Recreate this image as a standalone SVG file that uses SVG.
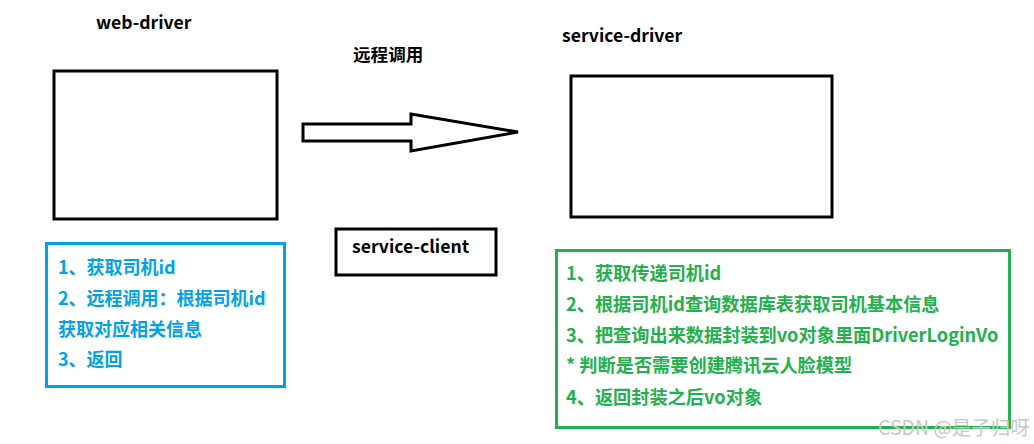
<svg xmlns="http://www.w3.org/2000/svg" width="1034" height="444" viewBox="0 0 1034 444">
<style>
.t{font-family:"Noto Sans CJK SC","Noto Sans",sans-serif;font-weight:bold;font-size:17.6px;fill:#000}
.box{fill:#fff;stroke:#000;stroke-width:3}
.blue{font-family:"Noto Sans CJK SC","Noto Sans",sans-serif;font-weight:bold;font-size:18px;fill:#00a2e8}
.green{font-family:"Noto Sans CJK SC","Noto Sans",sans-serif;font-weight:bold;font-size:18.2px;fill:#22b14c}
.wm{font-family:"Noto Sans CJK SC","Noto Sans",sans-serif;font-size:19.5px;fill:#c8c8c8}
</style>
<rect width="1034" height="444" fill="#fff"/>
<g id="web-driver">
<text class="t" x="96" y="29">web-driver</text>
<rect class="box" x="54" y="71" width="223" height="148"/>
</g>
<g id="service-driver">
<text class="t" x="562" y="42">service-driver</text>
<rect class="box" x="571" y="76" width="261" height="141"/>
</g>
<g id="service-client">
<rect class="box" x="336" y="229" width="160" height="46"/>
<text class="t" x="352" y="253">service-client</text>
</g>
<g id="web-notes">
<rect x="46.5" y="243.5" width="238" height="143" fill="none" stroke="#00a2e8" stroke-width="3"/>
<text class="blue" x="58" y="274">1、获取司机id</text>
<text class="blue" x="58" y="305">2、远程调用：根据司机id</text>
<text class="blue" x="58" y="336">获取对应相关信息</text>
<text class="blue" x="58" y="366">3、返回</text>
</g>
<g id="service-notes">
<rect x="556.5" y="250.5" width="453" height="177" fill="none" stroke="#22b14c" stroke-width="3"/>
<text class="green" x="566" y="280">1、获取传递司机id</text>
<text class="green" x="566" y="311">2、根据司机id查询数据库表获取司机基本信息</text>
<text class="green" x="566" y="342">3、把查询出来数据封装到vo对象里面DriverLoginVo</text>
<text class="green" x="566" y="372">* 判断是否需要创建腾讯云人脸模型</text>
<text class="green" x="566" y="404">4、返回封装之后vo对象</text>
</g>
<g id="connectors">
<polygon points="303,124 411,124 411,114 518,132 411,151 411,141 303,141" fill="#fff" stroke="#000" stroke-width="3" stroke-linejoin="miter"/>
<text class="t" x="353" y="61">远程调用</text>
</g>
<text class="wm" x="878" y="435">CSDN @是子归呀</text>
</svg>
